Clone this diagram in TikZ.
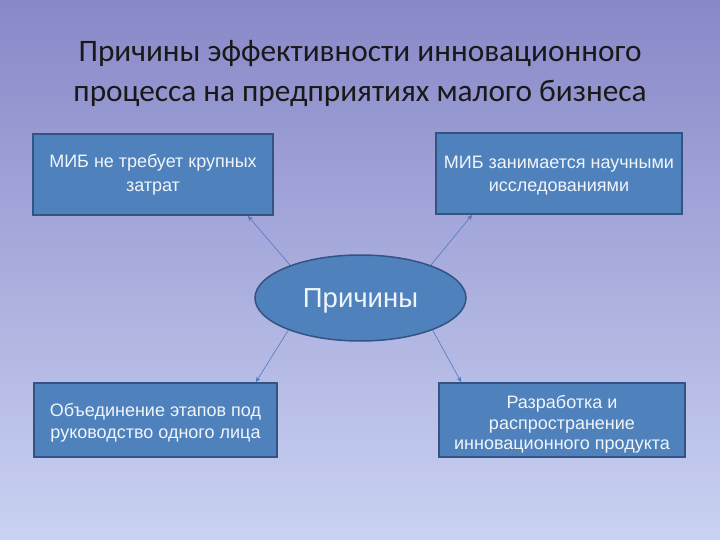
\documentclass[tikz,border=0pt]{standalone}
\usepackage{fontspec}
\setmainfont{Liberation Sans}
\newfontfamily\titlefont{Carlito}
\usetikzlibrary{shapes.geometric,arrows.meta,calc}
\definecolor{boxfill}{RGB}{79,129,189}
\definecolor{boxline}{RGB}{52,82,130}
\definecolor{arrcol}{RGB}{80,120,190}
\definecolor{bgtop}{RGB}{136,136,200}
\definecolor{bgbot}{RGB}{202,210,242}
\definecolor{boxtext}{RGB}{240,245,250}
\begin{document}
\begin{tikzpicture}[x=1pt,y=-1pt,
  box/.style={draw=boxline,line width=1.5pt,fill=boxfill,rectangle,inner sep=0pt},
  boxtxt/.style={inner sep=0pt,text=boxtext,align=center,font=\fontsize{18}{23.5}\selectfont},
  arr/.style={draw=arrcol,line width=0.6pt,-{Stealth[length=5.5pt,width=4.5pt]}}]
\shade[top color=bgtop,bottom color=bgbot] (0,0) rectangle (720,540);
\useasboundingbox (0,0) rectangle (720,540);
\node[font=\titlefont\fontsize{31.3}{40}\selectfont,text=black!90,align=center] (title) at (360,74)
  {Причины эффективности инновационного\\процесса на предприятиях малого бизнеса};
\node[box,minimum width=240pt,minimum height=81pt] (tl) at (153,174.5) {};
\node[boxtxt] (tltext) at (153,175) {МИБ не требует крупных\\затрат};
\node[box,minimum width=246pt,minimum height=81pt] (tr) at (559,173.5) {};
\node[boxtxt] (trtext) at (559,175.5) {МИБ занимается научными\\исследованиями};
\node[box,minimum width=243pt,minimum height=74pt] (bl) at (155.5,420) {};
\node[boxtxt,font=\fontsize{18}{22.5}\selectfont] (bltext) at (155.5,423) {Объединение этапов под\\руководство одного лица};
\node[box,minimum width=246pt,minimum height=74pt] (br) at (562,420) {};
\node[boxtxt,font=\fontsize{18}{20.5}\selectfont] (brtext) at (562,424.5) {Разработка и\\распространение\\инновационного продукта};
\node[ellipse,draw=boxline,line width=1.5pt,fill=boxfill,minimum width=211pt,minimum height=86pt,
  inner sep=0pt] (c) at (360.5,298) {};
\node[inner sep=0pt,text=boxtext,font=\fontsize{27.5}{30}\selectfont] (ctext) at (360.5,301) {Причины};
\draw[arr] (c.155) -- ([xshift=-26pt]tl.south east);
\draw[arr] (c.25) -- ([xshift=37pt]tr.south west);
\draw[arr] (c.204) -- ([xshift=-22pt]bl.north east);
\draw[arr] (c.336) -- ([xshift=23pt]br.north west);
\end{tikzpicture}
\end{document}
